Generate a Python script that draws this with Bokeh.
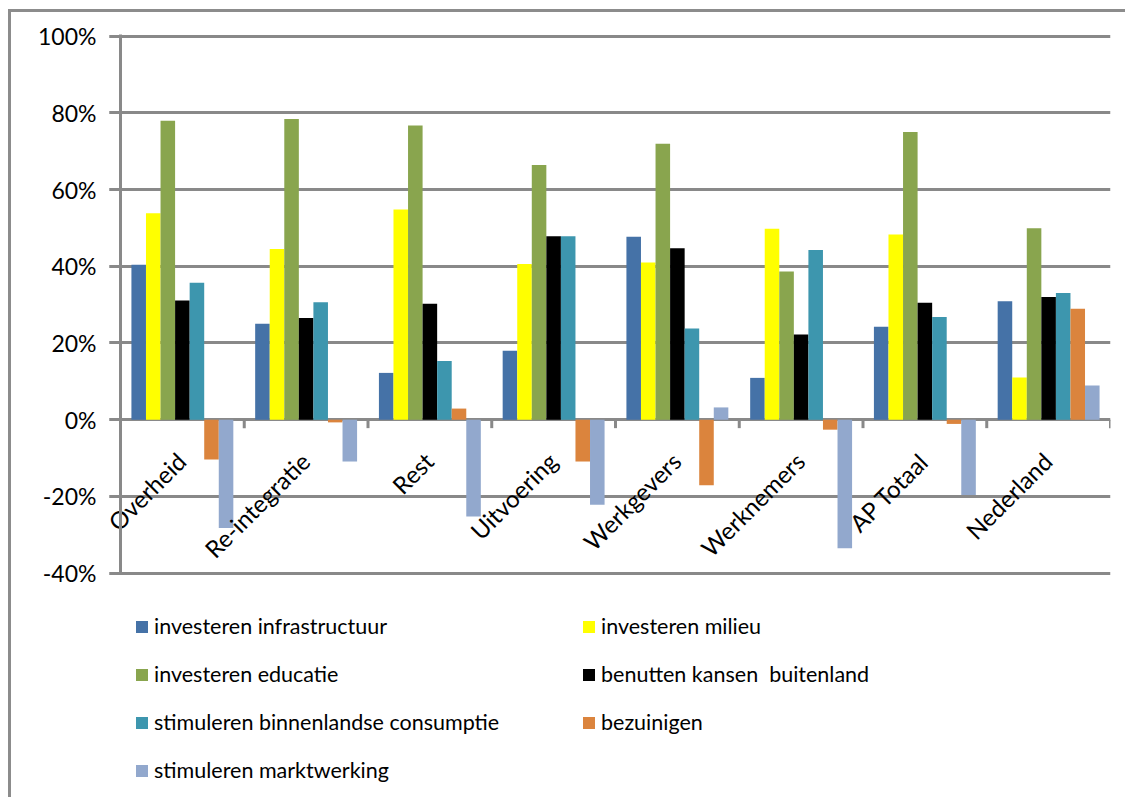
import numpy as np
from bokeh.plotting import figure
from bokeh.models import (Range1d, FixedTicker, PrintfTickFormatter,
                          Legend, LegendItem, ColumnDataSource)
from bokeh.core.properties import value
from bokeh.embed import file_html
from bokeh.resources import INLINE

categories = ["Overheid", "Re-integratie", "Rest", "Uitvoering",
              "Werkgevers", "Werknemers", "AP Totaal", "Nederland"]

series_names = ["investeren infrastructuur", "investeren milieu",
                "investeren educatie", "benutten kansen  buitenland",
                "stimuleren binnenlandse consumptie", "bezuinigen",
                "stimuleren marktwerking"]

infrastructuur = [40.4, 25.0, 12.2, 18.0, 47.7, 10.9, 24.2, 30.9]
milieu = [53.8, 44.5, 54.8, 40.6, 41.0, 49.8, 48.3, 11.0]
educatie = [77.9, 78.4, 76.7, 66.4, 71.9, 38.6, 75.0, 49.9]
buitenland = [31.1, 26.5, 30.2, 47.8, 44.7, 22.2, 30.5, 32.0]
consumptie = [35.7, 30.6, 15.3, 47.8, 23.8, 44.2, 26.8, 33.0]
bezuinigen = [-10.4, -0.7, 2.9, -10.9, -17.1, -2.6, -1.1, 28.9]
marktwerking = [-28.2, -10.9, -25.2, -22.2, 3.2, -33.5, -19.6, 8.9]

y_ticks = [-40, -20, 0, 20, 40, 60, 80, 100]

series_values = [infrastructuur, milieu, educatie, buitenland,
                 consumptie, bezuinigen, marktwerking]
colors = ["#4572A7", "#FFFF00", "#89A54E", "#000000",
          "#3D96AE", "#DB843D", "#92A8CD"]

GRAY = "#898989"
FONT = "Lato"

W, H = 1117, 788
BAND_TOP = 22      # pixel row of the top of the -40..100 band
LEFT = 20          # frame left (room for the value labels inside the frame)
AXIS_X = 109       # where the value axis sits
TICK = 11
RIGHT = 1099
PLOT_PX = 540.2    # pixel height of the -40..100 band
BAND_HI = 100.4
px_per_unit = PLOT_PX / 140.8
Y_HI = BAND_HI + BAND_TOP / px_per_unit  # frame reaches the top so the 100% label is not cut
Y_LO = Y_HI - H / px_per_unit            # frame extends down to host the legend

ncat = len(categories)
px_per_cat = (RIGHT - AXIS_X) / ncat
X_LO = -(AXIS_X - LEFT) / px_per_cat
GRID_X0 = -TICK / px_per_cat

p = figure(width=W, height=H,
           x_range=Range1d(X_LO, ncat), y_range=Range1d(Y_LO, Y_HI),
           output_backend="svg", toolbar_location=None,
           min_border_left=LEFT, min_border_right=W - RIGHT,
           min_border_top=0, min_border_bottom=0)
p.styles = {"margin-left": "8px", "margin-top": "9px",
            "border-left": "3px solid #8c8c8c", "border-top": "3px solid #8c8c8c"}
p.outline_line_color = None
p.background_fill_color = "white"
p.border_fill_color = "white"

# y axis, drawn at the left edge of the first category
p.yaxis.fixed_location = 0
p.yaxis.ticker = FixedTicker(ticks=y_ticks)
p.yaxis.bounds = (-40.4, BAND_HI)
p.yaxis.formatter = PrintfTickFormatter(format="%d%%")
p.yaxis.axis_line_color = GRAY
p.yaxis.axis_line_width = 3
p.yaxis.major_tick_line_color = GRAY
p.yaxis.major_tick_line_width = 3
p.yaxis.major_tick_out = TICK
p.yaxis.major_tick_in = 0
p.yaxis.minor_tick_line_color = None
p.yaxis.major_label_standoff = 13
p.yaxis.major_label_text_font = FONT
p.yaxis.major_label_text_font_size = "23px"
p.yaxis.major_label_text_color = "black"

p.xgrid.visible = False
p.xaxis.visible = False

ygrid = p.ygrid[0]
if "cross_bounds" in ygrid.properties():
    ygrid.grid_line_color = GRAY
    ygrid.grid_line_width = 3
    ygrid.cross_bounds = (GRID_X0, ncat)
else:
    ygrid.visible = False
    p.segment(x0=[GRID_X0] * len(y_ticks), x1=[ncat] * len(y_ticks),
              y0=y_ticks, y1=y_ticks, line_color=GRAY, line_width=3, level="underlay")

centers = np.arange(ncat) + 0.5
n = len(series_values)
step = 1.0 / (n + 1.5)
renderers = []
for k in range(n):
    src = ColumnDataSource(dict(x=centers + (k - (n - 1) / 2) * step, top=series_values[k]))
    r = p.vbar(x="x", top="top", bottom=0, width=step, source=src,
               fill_color=colors[k], line_color=None)
    renderers.append(r)

# category tick marks on the zero line
bounds = list(np.arange(1, ncat + 1, dtype=float))
p.segment(x0=bounds, x1=bounds, y0=[0] * len(bounds), y1=[-2.2] * len(bounds),
          line_color=GRAY, line_width=3)

# category labels rotated next to the zero line
p.text(x=list(centers), y=[0] * ncat, text=categories,
       angle=np.pi / 4, text_align="right", text_baseline="alphabetic",
       x_offset=-1, y_offset=37,
       text_font=value(FONT), text_font_size="24px", text_color="black")

legend = Legend(items=[LegendItem(label=series_names[k], renderers=[renderers[k]]) for k in range(n)],
                orientation="horizontal", ncols=2, location=(AXIS_X - LEFT + 14, 17),
                glyph_width=15, glyph_height=15, label_standoff=5,
                label_width=405, label_height=26, spacing=22,
                padding=0, margin=0,
                label_text_font=FONT, label_text_font_size="21.5px",
                label_text_color="black",
                border_line_color=None, background_fill_alpha=0)
p.add_layout(legend, "center")

open("out.html", "w").write(file_html(p, INLINE))
